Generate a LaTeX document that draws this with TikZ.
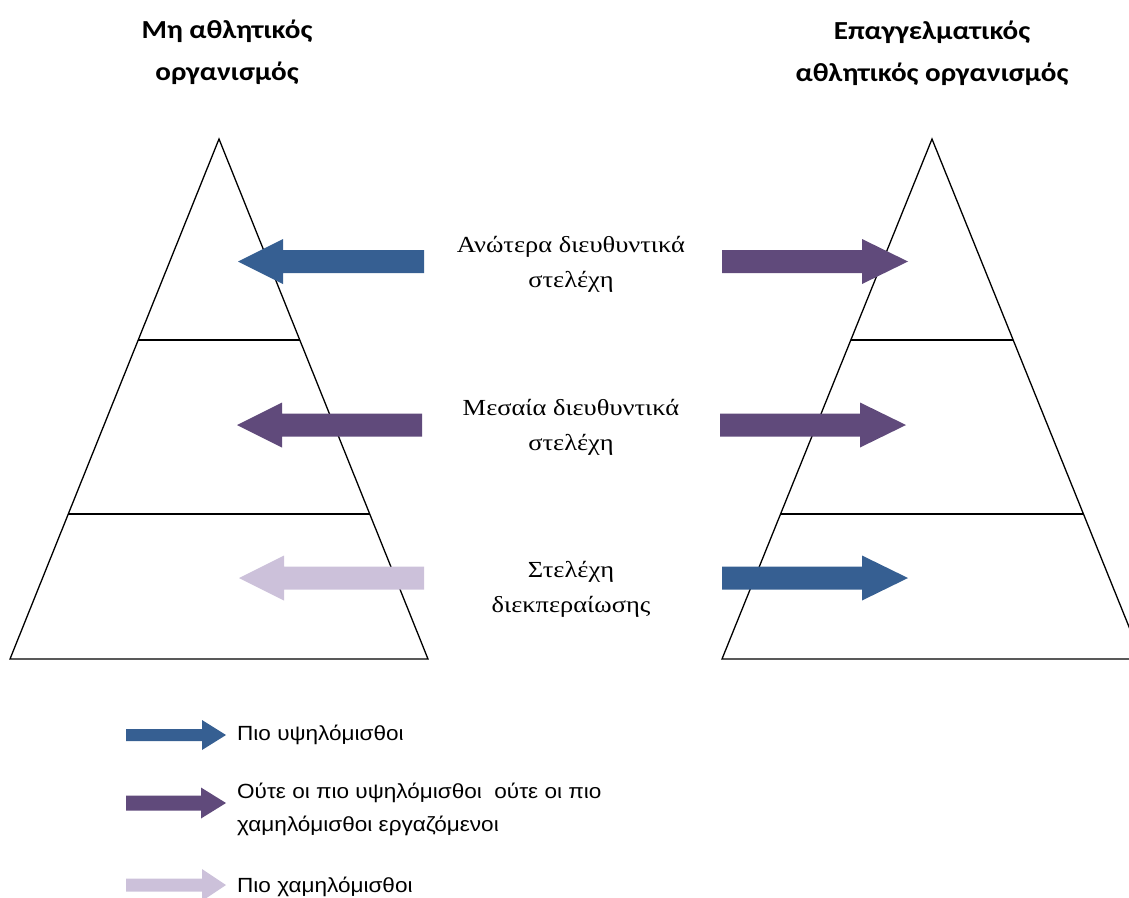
\documentclass[tikz,border=0pt]{standalone}
\usepackage{fontspec}
\newfontfamily\labelfont[FakeStretch=1.15]{Liberation Serif}
\newfontfamily\titlefont[FakeStretch=1.12]{Carlito}
\newfontfamily\legendfont[FakeStretch=1.1]{Liberation Sans}

\definecolor{topblue}{HTML}{365F92}
\definecolor{midpurple}{HTML}{604A7B}
\definecolor{lowlilac}{HTML}{CCC1DA}

% Block arrow: colour, tail x, head-base x, tip x, centre y, shaft half-height, head half-height
\newcommand\blockarrow[7]{%
  \fill[#1] (#2,#5-#6) -- (#3,#5-#6) -- (#3,#5-#7) -- (#4,#5)
    -- (#3,#5+#7) -- (#3,#5+#6) -- (#2,#5+#6) -- cycle;}

\tikzset{
  pyramid/.style={draw=black, line width=1.3pt, line join=miter},
  tier/.style={draw=black, line width=1.3pt},
  heading/.style={font=\titlefont\bfseries\fontsize{26}{42}\selectfont, align=center, anchor=base, inner sep=0pt},
  levellabel/.style={font=\labelfont\fontsize{23}{35}\selectfont, align=center, anchor=base, inner sep=0pt},
  legendtext/.style={font=\legendfont\fontsize{20.5}{33}\selectfont, align=left, anchor=base west, inner sep=0pt},
}

\begin{document}
\begin{tikzpicture}[x=1pt, y=-1pt]
\useasboundingbox (0,0) rectangle (1129,897);
\clip (0,0) rectangle (1129,897);

% Headings (anchored at the baseline of their last line)
\node[heading] (lefttitle) at (227,80) {Μη αθλητικός\\οργανισμός};
\node[heading] (righttitle) at (932,81) {Επαγγελματικός\\αθλητικός οργανισμός};

% Non-athletic organisation pyramid
\coordinate (la) at (219,139);
\coordinate (lb) at (10,659);
\coordinate (lc) at (428,659);
\path[pyramid] (la) -- (lb) -- (lc) -- cycle;
\draw[tier] (138.2,340) -- (299.8,340);
\draw[tier] (68.3,514) -- (369.7,514);

% Professional athletic organisation pyramid
\coordinate (ra) at (932,139);
\coordinate (rb) at (722,659);
\coordinate (rc) at (1142,659);
\path[pyramid] (ra) -- (rb) -- (rc) -- cycle;
\draw[tier] (851,340) -- (1013,340);
\draw[tier] (781,514) -- (1083,514);

% Arrows pointing into the left pyramid
\blockarrow{topblue}{424}{283}{238}{261.5}{11.5}{22.5}
\blockarrow{midpurple}{422}{282}{237}{425}{11.5}{22.5}
\blockarrow{lowlilac}{424}{284}{239}{578}{11.5}{22.5}

% Arrows pointing into the right pyramid
\blockarrow{midpurple}{722}{862}{908}{261.5}{11.5}{22.5}
\blockarrow{midpurple}{720}{860}{906}{425}{11.5}{22.5}
\blockarrow{topblue}{722}{862}{908}{578}{11.5}{22.5}

% Level labels
\node[levellabel] (upper) at (571,287) {Ανώτερα διευθυντικά\\στελέχη};
\node[levellabel] (middle) at (571,450) {Μεσαία διευθυντικά\\στελέχη};
\node[levellabel] (lower) at (571,612) {Στελέχη\\διεκπεραίωσης};

% Legend
\blockarrow{topblue}{126}{202}{226}{735}{6}{15}
\blockarrow{midpurple}{126}{201}{226}{803}{7.5}{15.5}
\blockarrow{lowlilac}{126}{202}{226}{885}{6.5}{16}
\node[legendtext] (keyhigh) at (237,740) {Πιο υψηλόμισθοι};
\node[legendtext] (keymid) at (237,831) {Ούτε οι πιο υψηλόμισθοι\ \ ούτε οι πιο\\χαμηλόμισθοι εργαζόμενοι};
\node[legendtext] (keylow) at (237,892) {Πιο χαμηλόμισθοι};
\end{tikzpicture}
\end{document}
